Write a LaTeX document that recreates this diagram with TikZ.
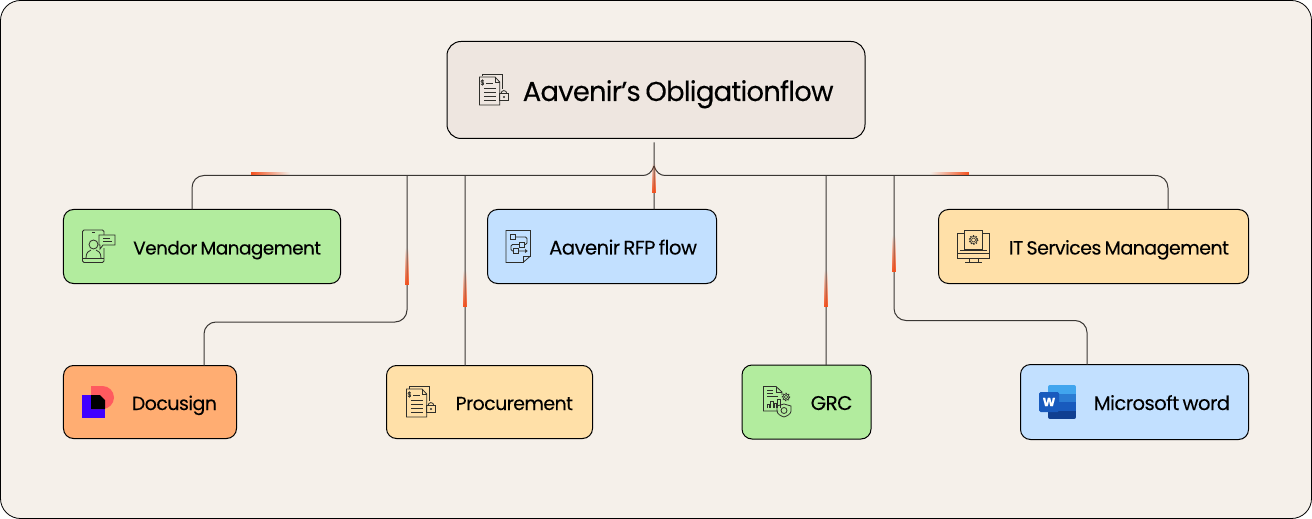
\documentclass[tikz,border=0pt]{standalone}
\usepackage{fontspec}
\setmainfont[LetterSpace=-2.8, WordSpace=0.7, FakeBold=0.12]{Poppins}
\usetikzlibrary{positioning, fadings}

\definecolor{paper}{HTML}{F5F0EA}
\definecolor{rootfill}{HTML}{EEE6E0}
\definecolor{greenfill}{HTML}{B2EC9E}
\definecolor{bluefill}{HTML}{C2E0FF}
\definecolor{sandfill}{HTML}{FFE0A8}
\definecolor{orangefill}{HTML}{FFAD72}
\definecolor{linkink}{HTML}{3A3734}
\definecolor{iconink}{HTML}{2E2E2A}
\definecolor{accent}{HTML}{F4511E}
\definecolor{signblue}{HTML}{4000FF}
\definecolor{signred}{HTML}{FF5A5F}
\definecolor{wordone}{HTML}{41A5EE}
\definecolor{wordtwo}{HTML}{2B7CD3}
\definecolor{wordthree}{HTML}{185ABD}
\definecolor{wordfour}{HTML}{103F91}

\tikzset{
  box/.style={draw, line width=1bp, rounded corners=10bp, outer sep=0pt, inner xsep=19.5bp, inner ysep=0pt,
    align=flush right, text height=19bp, text depth=3bp},
  textsize/.style={font=\fontsize{#1bp}{22bp}\selectfont},
  link/.style={draw=linkink, line width=1bp, rounded corners=12bp},
  iconline/.style={draw=iconink, line width=.8bp},
  pics/doclock/.style={code={
    \draw[iconline] (3,2.5) -- (3,0.5) -- (23.5,0.5) -- (23.5,15);
    \draw[iconline] (0.5,3) -- (16,3) -- (20.7,8) -- (20.7,31) -- (0.5,31) -- cycle;
    \draw[iconline] (16,3) -- (16,8) -- (20.7,8);
    \node[text=iconink, inner sep=0pt, textsize=7] (dollar) at (3.5,8.5) {\$};
    \draw[iconline] (7,9.5) -- (14,9.5) (5,14) -- (17,14) (5,18) -- (17,18) (5,22) -- (17,22) (5,26) -- (17,26);
    \draw[iconline] (20.7,19.5) rectangle (29,26.5);
    \draw[iconline] (22,19.5) arc[start angle=180, end angle=360, radius=2.9];
    \fill[iconink] (24.9,23) circle (1.1);
  }},
  pics/gearmark/.style={code={
    \draw[iconline, line width=.6bp] (0,0) circle (2);
    \draw[iconline, line width=.6bp] (0,0) circle (3.6);
    \draw[draw=iconink, line width=1bp, dash pattern=on 1.2bp off 1.6bp] (0,0) circle (4.4);
  }}
}

\begin{document}
\begin{tikzpicture}[x=1bp, y=-1bp]
    \useasboundingbox (0,0) rectangle (1312,519);
    \draw[fill=paper, line width=.8bp, rounded corners=20bp] (0.5,0.5) rectangle (1311.5,518.5);

    \node[box, fill=rootfill, rounded corners=14bp, text width=355bp, inner xsep=31.5bp, minimum height=97bp,
      text height=25bp, text depth=3bp, textsize=27.4] (root) at (656,90) {Aavenir’s Obligationflow};

    \node[box, fill=greenfill, text width=238bp, minimum height=74bp, textsize=18.4] (vendor) at (202,246.5) {Vendor Management};
    \node[box, fill=bluefill, text width=190bp, minimum height=74bp, textsize=19.6, right=147bp of vendor] (rfp) {Aavenir RFP flow};
    \node[box, fill=sandfill, text width=271bp, minimum height=74bp, textsize=19, right=222bp of rfp] (itsm) {IT Services Management};

    \node[box, fill=orangefill, text width=134bp, minimum height=73bp, textsize=19, below=82bp of vendor.south west, anchor=north west] (docusign) {Docusign};
    \node[box, fill=sandfill, text width=167bp, minimum height=73bp, textsize=18.9, right=150bp of docusign] (procurement) {Procurement};
    \node[box, fill=greenfill, text width=92bp, inner xsep=18.5bp, minimum height=74bp, textsize=19.9, right=149.5bp of procurement] (grc) {GRC};
    \node[box, fill=bluefill, text width=191bp, inner xsep=18.5bp, minimum height=75bp, textsize=19.6, right=149.5bp of grc] (word) {Microsoft word};

    % connectors
    \coordinate (fork) at (654,166);
    \draw[link] ([xshift=-2bp, yshift=-4bp]root.south) -- ([xshift=52bp]rfp.north);
    \draw[link, rounded corners=0pt] (fork) .. controls (652,172) and (648,175.5) .. (643,175.5) -- (204,175.5)
      .. controls (197,175.5) and (192,181) .. (192,188) -- ([xshift=-10bp]vendor.north);
    \draw[link, rounded corners=0pt] (fork) .. controls (656,172) and (660,175.5) .. (665,175.5) -- (1155,175.5)
      .. controls (1163,175.5) and (1168,181) .. (1168,188) -- ([xshift=74.5bp]itsm.north);
    \draw[link] (407,175.5) -- (407,322) -- (204,322) -- ([xshift=54bp]docusign.north);
    \draw[link] (465,175.5) -- ([xshift=-24.5bp]procurement.north);
    \draw[link] (826,175.5) -- ([xshift=19.5bp]grc.north);
    \draw[link] (894,175.5) -- (894,320.5) -- (1087,320.5) -- ([xshift=-47.5bp]word.north);

    % accents on the connectors
    \fill[accent, path fading=east] (251,172) rectangle (290,175.2);
    \fill[accent, path fading=west] (930,172) rectangle (969,175.2);
    \fill[accent, path fading=north] (405.2,248) rectangle (408.8,285);
    \fill[accent, path fading=north] (463.2,270) rectangle (466.8,307);
    \fill[accent, path fading=north] (652.2,163) rectangle (655.8,193);
    \fill[accent, path fading=north] (824.2,270) rectangle (827.8,307);
    \fill[accent, path fading=north] (892.2,235) rectangle (895.8,272);

    % icons
    \pic at (479,74) {doclock};
    \pic at (406,386) {doclock};

    % vendor
    \draw[iconline, rounded corners=1.5bp] (104,235) -- (104,230) -- (82.5,230) -- (82.5,262.5) -- (104,262.5) -- (104,248);
    \draw[iconline] (92,232.5) -- (95,232.5) (82.5,258) -- (104,258);
    \draw[iconline] (99,235) -- (115,235) -- (115,245) -- (103,245) -- (100,249) -- (100,245) -- (99,245) -- cycle;
    \draw[iconline] (103,238.5) -- (110,238.5) (103,241.5) -- (112,241.5);
    \draw[iconline] (93.5,244.5) circle (4.5);
    \draw[iconline] (86,258) .. controls (86,252) and (89,251) .. (91,250) (96,250) .. controls (98,251) and (101,252) .. (101,258);

    % docusign
    \fill[signblue] (82,395) rectangle (105,418);
    \fill[signred] (91,386) -- (102.5,386) arc[start angle=-90, end angle=90, radius=11.5] -- (91,409) -- cycle;
    \fill[black] (91,395) -- (100,395) -- (105,400) -- (105,409) -- (91,409) -- cycle;

    % rfp flow
    \draw[iconline] (506,230.5) -- (530.5,230.5) -- (530.5,256) -- (523,262.5) -- (506,262.5) -- cycle;
    \draw[iconline] (523,262.5) -- (523,256) -- (530.5,256);
    \draw[iconline] (510,234.5) rectangle (515,239.5);
    \draw[iconline] (519,242) rectangle (524,247);
    \draw[iconline] (513,248.5) rectangle (518,253.5);
    \draw[iconline, rounded corners=1.5bp] (515,237) -- (527,237) -- (527,244.5) -- (524,244.5);
    \draw[iconline, rounded corners=1.5bp] (519,244.5) -- (511,244.5) -- (511,251) -- (513,251);
    \draw[iconline] (518,251) -- (527,251) (525,249.5) -- (527,251) -- (525,252.5);

    % it services
    \draw[iconline] (964,233) -- (957.5,233) -- (957.5,258.5) -- (989.5,258.5) -- (989.5,233) -- (983,233);
    \draw[iconline] (964.5,249) rectangle (982.5,230.5);
    \draw[iconline] (957.5,253) -- (989.5,253) (960,250.5) -- (987,250.5);
    \draw[iconline] (969,258.5) -- (969,262.5) (978,258.5) -- (978,262.5) (965,262.5) -- (982,262.5);
    \pic at (973.5,240) {gearmark};

    % grc
    \draw[iconline] (778,411) -- (763.5,411) -- (763.5,386.5) -- (776,386.5) -- (782,392) -- (782,395);
    \draw[iconline] (776,386.5) -- (776,392) -- (782,392);
    \draw[iconline] (767,390) -- (773,390) (767,393) -- (773,393) (767,396) -- (778,396);
    \foreach \barx/\bartop in {767/404, 770.5/401, 774/403, 777.5/399}
      \draw[iconline] (\barx,408) -- (\barx,\bartop) -- (\barx+2.5,\bartop) -- (\barx+2.5,408);
    \pic[scale=.85] at (786,397) {gearmark};
    \draw[iconline] (784,404) -- (791,406) -- (791,411) .. controls (791,414) and (787,416) .. (784,417) .. controls (781,416) and (777,414) .. (777,411) -- (777,406) -- cycle;
    \draw[iconline] (784,410.5) circle (3);

    % word
    \begin{scope}
      \clip[rounded corners=2bp] (1048,385) rectangle (1076,419);
      \fill[wordone] (1048,385) rectangle (1076,394);
      \fill[wordtwo] (1048,394) rectangle (1076,402);
      \fill[wordthree] (1048,402) rectangle (1076,411);
      \fill[wordfour] (1048,411) rectangle (1076,419);
    \end{scope}
    \node[fill=wordthree, rounded corners=1.5bp, text=white, minimum width=20bp, minimum height=20bp,
      inner sep=0pt, font=\bfseries\fontsize{12bp}{12bp}\selectfont] (wordmark) at (1049,402) {W};
\end{tikzpicture}
\end{document}
